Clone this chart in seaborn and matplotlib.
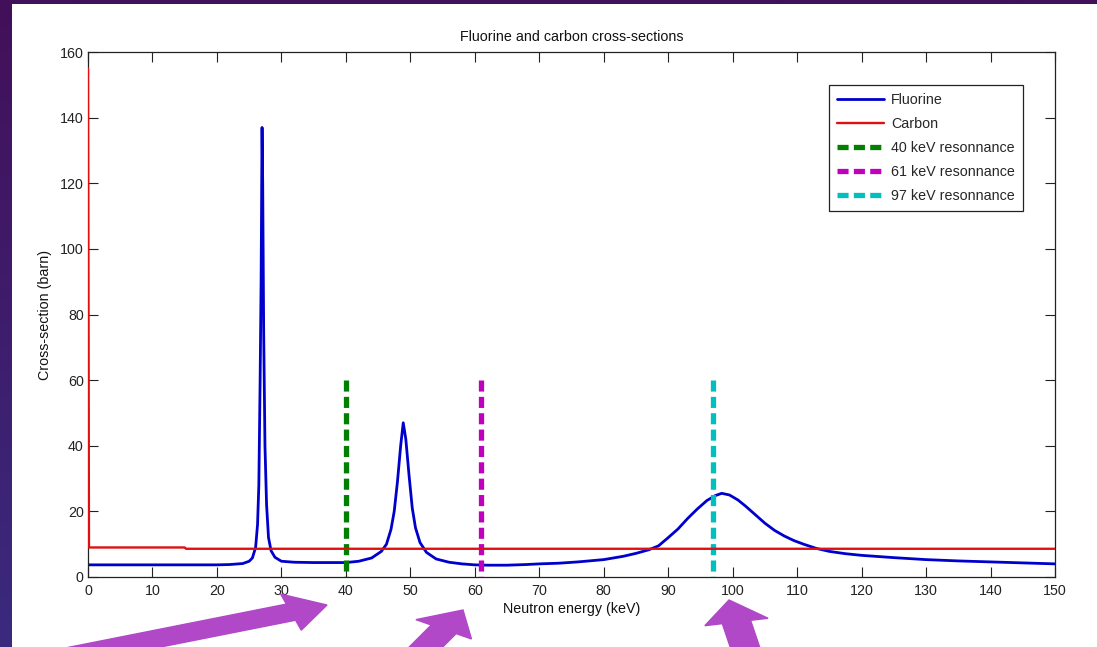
import numpy as np
import pandas as pd
import matplotlib
matplotlib.use("Agg")
import matplotlib.pyplot as plt
import seaborn as sns
from matplotlib.patches import Rectangle, FancyArrow
from matplotlib.colors import LinearSegmentedColormap

# ---- data ----
fluorine_energy = [0, 10, 20, 22, 24, 25, 25.5, 26, 26.3, 26.5, 26.7, 26.85, 27.0, 27.1, 27.25,
                   27.45, 27.7, 28.0, 28.4, 29, 30, 32, 35, 38, 40,
                   42, 44, 45.5, 46.3, 47.0, 47.5, 48.0, 48.5, 48.9, 49.3, 49.8, 50.3, 50.8,
                   51.5, 52.5, 54, 56, 58, 60, 62, 65, 68, 70, 73, 76, 80, 83, 85, 87,
                   88.5, 90, 91.5, 93, 94.5, 96, 97.3, 98.3, 99.5, 100.8, 102, 103.5, 105,
                   106.5, 108, 109.5, 111, 113, 115, 117.5, 120, 125, 130, 135, 140, 145, 150]
fluorine_xs = [3.7, 3.7, 3.7, 3.8, 4.1, 4.8, 5.8, 9, 16, 28, 60, 90, 137, 120, 75,
               40, 22, 12, 8, 6, 4.8, 4.5, 4.4, 4.4, 4.4,
               4.8, 5.8, 7.8, 10, 14.5, 20, 29, 40, 47, 42, 31, 21, 15,
               10.5, 7.5, 5.5, 4.5, 4.0, 3.7, 3.6, 3.6, 3.8, 4.0, 4.2, 4.6, 5.3, 6.3, 7.2, 8.3,
               9.5, 12, 14.6, 17.8, 20.7, 23.3, 24.8, 25.5, 25.0, 23.5, 21.6, 19, 16.4,
               14.2, 12.5, 11.1, 10, 8.7, 7.8, 7.1, 6.6, 5.9, 5.3, 4.9, 4.6, 4.3, 4.0]

carbon_energy = [0, 0.15, 15, 15.2, 150]
carbon_xs = [155, 9.0, 9.0, 8.6, 8.6]

resonance_energy = [40, 61, 97]
resonance_top = [60, 60, 60]
resonance_labels = ["40 keV resonnance", "61 keV resonnance", "97 keV resonnance"]
resonance_colors = ["#007f00", "#bf00bf", "#00bfbf"]

x_ticks = list(range(0, 151, 10))
y_ticks = list(range(0, 161, 20))

# ---- style ----
sns.set_style("ticks")
plt.rcParams['font.family'] = ['Liberation Sans', 'DejaVu Sans']
FS = 10.3

W, H = 1097, 647
fig = plt.figure(figsize=(W / 100, H / 100), dpi=100)
fig.patch.set_facecolor("#40125a")

# slide background gradient (purple)
bg = fig.add_axes([0, 0, 1, 1], zorder=-10)
grad = np.linspace(0, 1, 256).reshape(-1, 1)
cmap_bg = LinearSegmentedColormap.from_list("bg", ["#43105a", "#3a2a7e"])
bg.imshow(grad, aspect="auto", cmap=cmap_bg, extent=[0, 1, 0, 1], origin="upper")
bg.set_axis_off()
# white slide panel
bg.add_patch(Rectangle((12 / W, 0), 1 - 12 / W, 1 - 4 / H, facecolor="white",
                       edgecolor="none", transform=bg.transAxes))

ax = fig.add_axes([88 / W, 1 - 577 / H, (1055 - 88) / W, (577 - 52) / H])
ax.set_zorder(1)
ax.set_facecolor("white")

df_f = pd.DataFrame({"energy": fluorine_energy, "xs": fluorine_xs})
df_c = pd.DataFrame({"energy": carbon_energy, "xs": carbon_xs})

sns.lineplot(data=df_f, x="energy", y="xs", ax=ax, color="#0000cc", lw=2.0,
             estimator=None, sort=False, label="Fluorine")
sns.lineplot(data=df_c, x="energy", y="xs", ax=ax, color="#e01010", lw=1.7,
             estimator=None, sort=False, label="Carbon", zorder=3)
for e, top, lab, col in zip(resonance_energy, resonance_top, resonance_labels, resonance_colors):
    ax.vlines(e, top, 0, colors=col, linestyles=(0, (2.1, 1.0)), lw=3.8, label=lab)

ax.set_xlim(0, 150)
ax.set_ylim(0, 160)
ax.set_xticks(x_ticks)
ax.set_yticks(y_ticks)
ax.tick_params(direction="in", length=7, width=0.8, top=True, right=True,
               labelsize=FS, colors="#222222")
ax.tick_params(axis="x", pad=5)
ax.tick_params(axis="y", pad=3)
for s in ax.spines.values():
    s.set_visible(True)
    s.set_linewidth(0.9)
    s.set_color("#222222")

ax.set_title("Fluorine and carbon cross-sections", fontsize=FS, pad=8, color="#111111")
ax.set_xlabel("Neutron energy (keV)", fontsize=FS, labelpad=3, color="#111111")
ax.set_ylabel("Cross-section (barn)", fontsize=FS, labelpad=6, color="#111111")

leg = ax.legend(loc="upper right", bbox_to_anchor=(0.967, 0.937), fontsize=FS,
                frameon=True, fancybox=False, edgecolor="#222222", framealpha=1,
                handlelength=3.3, labelspacing=0.7, borderpad=0.55, handletextpad=0.5,
                borderaxespad=0)
leg.get_frame().set_linewidth(0.9)

# purple arrows (slide annotation)
arrow_col = "#b048c8"
def arrow(x0, y0, x1, y1, hw=38, hl=38):
    fig.patches.append(FancyArrow(x0 / W, 1 - y0 / H, (x1 - x0) / W, -(y1 - y0) / H,
                                  width=17 / H, head_width=hw / H, head_length=hl / W,
                                  length_includes_head=True, transform=fig.transFigure,
                                  color=arrow_col, zorder=5))
arrow(40, 662, 327, 605)
arrow(405, 668, 463, 610)
arrow(752, 668, 729, 600)

fig.savefig("out.png", dpi=100, facecolor=fig.get_facecolor())
